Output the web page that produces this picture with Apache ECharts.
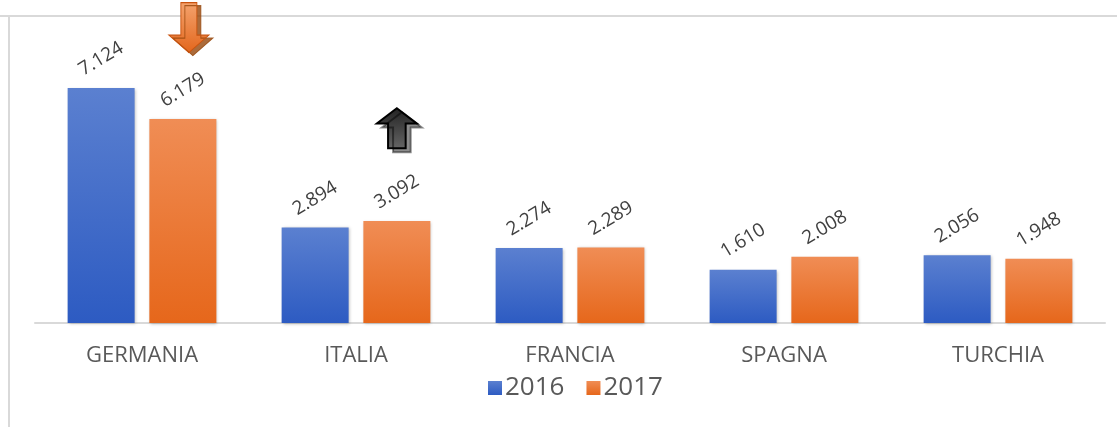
<!DOCTYPE html>
<html>
<head>
<meta charset="utf-8">
<script src="https://cdn.jsdelivr.net/npm/echarts@6/dist/echarts.min.js"></script>
<style>
  html, body { margin: 0; padding: 0; background: #fff; }
  #chart { width: 1117px; height: 427px; }
</style>
</head>
<body>
<div id="chart"></div>
<script>
var categories = ['GERMANIA', 'ITALIA', 'FRANCIA', 'SPAGNA', 'TURCHIA'];
var values2016 = [7.124, 2.894, 2.274, 1.610, 2.056];
var values2017 = [6.179, 3.092, 2.289, 2.008, 1.948];

// frecce (calo / crescita)
var downArrow = 'path://M3,0 L7,0 L7,6.5 L10,6.5 L5,10 L0,6.5 L3,6.5 Z';
var upArrow = 'path://M5,0 L10,3.8 L7.2,3.8 L7.2,10 L2.8,10 L2.8,3.8 L0,3.8 Z';

var chart = echarts.init(document.getElementById('chart'));

function grad(top, bottom) {
    return new echarts.graphic.LinearGradient(0, 0, 0, 1, [
        { offset: 0, color: top },
        { offset: 1, color: bottom }
    ]);
}

var labelCfg = {
    show: true,
    position: 'top',
    distance: 29,
    rotate: 31,
    align: 'center',
    verticalAlign: 'middle',
    color: '#404040',
    fontSize: 19,
    fontFamily: 'Open Sans',
    formatter: function (p) { return p.value.toFixed(3); }
};

var option = {
    animation: false,
    textStyle: { fontFamily: 'Open Sans' },
    graphic: [
        { type: 'line', shape: { x1: 0, y1: 16, x2: 1117, y2: 16 }, style: { stroke: '#d9d9d9', lineWidth: 2 } },
        { type: 'line', shape: { x1: 9, y1: 16, x2: 9, y2: 427 }, style: { stroke: '#d9d9d9', lineWidth: 2 } }
    ],
    legend: {
        data: ['2016', '2017'],
        top: 370,
        left: 483,
        itemWidth: 14,
        itemHeight: 14,
        itemGap: 22,
        icon: 'rect',
        textStyle: { fontSize: 26, color: '#595959', fontFamily: 'Open Sans', padding: [0, 0, 0, -2] }
    },
    grid: { left: 35, right: 12, top: 26, bottom: 104 },
    xAxis: {
        type: 'category',
        data: categories,
        axisLine: { lineStyle: { color: '#d9d9d9', width: 2 } },
        axisTick: { show: false },
        axisLabel: { color: '#595959', fontSize: 22, margin: 22, fontFamily: 'Open Sans' }
    },
    yAxis: {
        type: 'value',
        min: 0,
        max: 9,
        show: false
    },
    series: [
        {
            name: '2016',
            type: 'bar',
            data: values2016,
            barWidth: 67,
            barGap: '22%',
            itemStyle: {
                color: grad('#5b80d0', '#2d5bc2'),
                shadowColor: 'rgba(0,0,0,0.25)',
                shadowBlur: 3,
                shadowOffsetX: 1,
                shadowOffsetY: 1
            },
            label: labelCfg
        },
        {
            name: '2017',
            type: 'bar',
            data: values2017,
            barWidth: 67,
            itemStyle: {
                color: grad('#f08d55', '#e6671b'),
                shadowColor: 'rgba(0,0,0,0.25)',
                shadowBlur: 3,
                shadowOffsetX: 1,
                shadowOffsetY: 1
            },
            label: labelCfg,
            markPoint: {
                silent: true,
                label: { show: false },
                data: [
                    {
                        coord: ['GERMANIA', 8.95],
                        symbol: downArrow,
                        symbolSize: [40, 50],
                        symbolOffset: [6, 0],
                        itemStyle: {
                            color: grad('#f4a36e', '#e3661c'),
                            borderColor: '#c9530f',
                            borderWidth: 1,
                            shadowColor: 'rgba(150,70,10,0.8)',
                            shadowOffsetX: 4,
                            shadowOffsetY: 3
                        }
                    },
                    {
                        coord: ['ITALIA', 5.9],
                        symbol: upArrow,
                        symbolSize: [40, 40],
                        symbolOffset: [0, 0],
                        itemStyle: {
                            color: grad('#222222', '#666666'),
                            borderColor: '#000',
                            borderWidth: 2,
                            shadowColor: 'rgba(0,0,0,0.45)',
                            shadowOffsetX: 5,
                            shadowOffsetY: 4
                        }
                    }
                ]
            }
        }
    ]
};

chart.setOption(option);
</script>
</body>
</html>
